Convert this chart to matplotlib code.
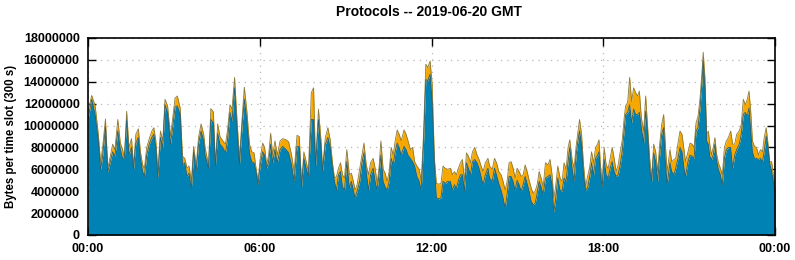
"""
Protocols -- 2019-06-20 GMT, gnuplot 스타일 누적 영역 그래프 재현.
"""
import matplotlib
matplotlib.use("Agg")
import matplotlib.pyplot as plt
from matplotlib.ticker import MultipleLocator, FixedLocator

plt.rcParams['font.family'] = ['Liberation Sans', 'DejaVu Sans']

# 읽은 시점 (시간 단위, 0~24)
hours = [
    0.00, 0.13, 0.25, 0.36, 0.44, 0.51, 0.61, 0.69, 0.78, 0.86, 0.94, 1.04, 1.13, 1.21, 1.27,
    1.35, 1.43, 1.52, 1.59, 1.67, 1.76, 1.83, 1.91, 1.97, 2.05, 2.14, 2.23, 2.30, 2.37, 2.44,
    2.53, 2.61, 2.69, 2.78, 2.88, 2.96, 3.04, 3.12, 3.22, 3.30, 3.38, 3.46, 3.53, 3.61, 3.69,
    3.78, 3.86, 3.95, 4.04, 4.09, 4.21, 4.29, 4.38, 4.45, 4.53, 4.61, 4.71, 4.80, 4.87, 4.96,
    5.03, 5.12, 5.20, 5.29, 5.38, 5.46, 5.55, 5.64, 5.72, 5.80, 5.87, 5.94, 6.01, 6.10, 6.17,
    6.24, 6.31, 6.38, 6.45, 6.53, 6.61, 6.71, 6.80, 6.92, 7.01, 7.11, 7.20, 7.30, 7.38, 7.46,
    7.54, 7.62, 7.70, 7.80, 7.88, 7.95, 8.05, 8.15, 8.19, 8.29, 8.38, 8.46, 8.54, 8.61, 8.68,
    8.75, 8.82, 8.89, 8.96, 9.04, 9.13, 9.20, 9.27, 9.33, 9.40, 9.49, 9.57, 9.64, 9.72, 9.80,
    9.87, 9.96, 10.03, 10.10, 10.17, 10.23, 10.31, 10.38, 10.45, 10.52, 10.59, 10.66, 10.73, 10.80, 10.87,
    10.94, 11.04, 11.11, 11.18, 11.26, 11.34, 11.41, 11.49, 11.57, 11.64, 11.72, 11.80, 11.87, 11.95, 12.02,
    12.10, 12.17, 12.25, 12.33, 12.40, 12.48, 12.56, 12.66, 12.73, 12.80, 12.87, 12.94, 13.01, 13.08, 13.15,
    13.22, 13.29, 13.36, 13.43, 13.51, 13.59, 13.66, 13.73, 13.80, 13.88, 13.97, 14.03, 14.12, 14.20, 14.27,
    14.35, 14.43, 14.50, 14.57, 14.64, 14.71, 14.78, 14.85, 14.92, 14.99, 15.06, 15.13, 15.20, 15.27, 15.34,
    15.41, 15.48, 15.55, 15.62, 15.69, 15.76, 15.83, 15.90, 15.98, 16.07, 16.14, 16.21, 16.27, 16.33, 16.41,
    16.49, 16.56, 16.63, 16.70, 16.77, 16.83, 16.91, 16.98, 17.05, 17.12, 17.17, 17.24, 17.31, 17.38, 17.45,
    17.52, 17.59, 17.66, 17.73, 17.80, 17.85, 17.90, 17.96, 18.03, 18.10, 18.17, 18.24, 18.31, 18.38, 18.45,
    18.52, 18.59, 18.66, 18.73, 18.78, 18.85, 18.92, 18.99, 19.06, 19.13, 19.20, 19.26, 19.33, 19.41, 19.48,
    19.55, 19.62, 19.69, 19.76, 19.83, 19.90, 19.97, 20.04, 20.11, 20.16, 20.23, 20.33, 20.39, 20.47, 20.53,
    20.61, 20.68, 20.75, 20.82, 20.87, 20.96, 21.03, 21.10, 21.17, 21.24, 21.31, 21.38, 21.45, 21.49, 21.55,
    21.61, 21.67, 21.72, 21.78, 21.84, 21.90, 21.95, 22.02, 22.09, 22.16, 22.23, 22.30, 22.37, 22.45, 22.52,
    22.59, 22.66, 22.75, 22.82, 22.89, 22.96, 23.03, 23.09, 23.15, 23.21, 23.28, 23.35, 23.42, 23.49, 23.56,
    23.62, 23.69, 23.74, 23.81, 23.88, 23.94, 24.00,
]

# 아래층 (파랑) - 백만 바이트 단위
blue_mb = [
    10.55, 12.4, 11.0, 8.6, 6.0, 7.2, 9.9, 5.75, 6.7, 7.6, 7.2, 9.5, 7.8, 7.0, 7.0,
    10.5, 7.3, 8.0, 6.0, 8.4, 8.9, 7.0, 5.8, 5.35, 7.3, 8.3, 8.9, 9.2, 8.0, 5.2,
    8.9, 8.0, 11.9, 11.2, 8.3, 9.9, 11.7, 11.8, 11.0, 6.4, 6.6, 5.35, 5.65, 4.2, 7.6,
    5.8, 8.3, 9.5, 8.6, 7.3, 6.1, 10.55, 10.25, 6.3, 9.3, 8.3, 8.0, 7.5, 8.6, 11.2,
    10.4, 13.45, 9.9, 6.4, 9.9, 12.4, 10.4, 7.5, 6.7, 6.6, 5.8, 4.6, 6.3, 7.6, 7.3,
    6.1, 6.7, 8.3, 6.6, 7.8, 6.6, 7.8, 8.1, 7.8, 7.5, 6.4, 4.9, 8.1, 8.1, 4.4,
    7.0, 6.1, 5.35, 10.55, 10.55, 6.3, 10.55, 7.6, 5.8, 8.3, 8.9, 8.0, 6.1, 4.9, 4.1,
    5.5, 5.8, 4.4, 4.1, 6.7, 4.3, 4.9, 4.1, 3.4, 4.0, 4.9, 6.6, 7.5, 5.8, 4.1,
    5.5, 6.1, 4.9, 4.1, 5.65, 7.3, 4.9, 4.4, 4.1, 4.9, 7.0, 6.4, 7.6, 8.4, 8.0,
    7.3, 8.1, 7.8, 7.3, 7.0, 6.7, 6.3, 5.35, 4.9, 4.1, 8.3, 14.2, 14.1, 14.7, 12.2,
    6.4, 3.4, 3.3, 3.4, 4.9, 4.7, 4.9, 4.9, 4.1, 4.6, 4.3, 5.0, 5.5, 5.5, 4.0,
    6.6, 6.1, 5.5, 6.7, 6.9, 6.6, 6.1, 5.35, 4.6, 5.5, 6.1, 5.2, 4.9, 6.1, 5.5,
    4.7, 4.1, 3.4, 2.45, 3.7, 5.35, 5.35, 4.9, 4.1, 5.0, 4.6, 4.0, 4.6, 5.35, 4.7,
    4.0, 3.1, 2.75, 2.9, 3.8, 4.9, 4.4, 3.7, 5.2, 5.35, 5.5, 4.6, 2.1, 3.1, 5.2,
    4.1, 4.0, 5.2, 4.9, 6.7, 8.0, 6.1, 4.9, 7.3, 8.7, 9.5, 8.3, 5.5, 4.1, 4.3,
    5.2, 6.6, 5.5, 7.0, 7.3, 7.6, 5.5, 4.4, 6.9, 5.5, 5.2, 6.1, 6.7, 5.8, 5.35,
    5.5, 6.4, 7.6, 9.6, 11.0, 11.2, 11.9, 10.25, 11.5, 11.0, 11.0, 11.2, 9.8, 8.4, 11.3,
    9.2, 6.1, 4.9, 7.5, 6.7, 4.9, 7.3, 9.2, 9.8, 7.0, 4.6, 6.6, 5.8, 5.5, 6.1,
    7.0, 8.0, 7.6, 6.1, 5.35, 6.7, 7.3, 7.2, 7.0, 9.5, 9.8, 11.6, 14.1, 15.9, 13.45,
    8.6, 8.3, 7.2, 6.9, 7.3, 8.3, 6.9, 6.0, 5.5, 4.6, 7.0, 7.8, 8.0, 8.0, 6.1,
    7.3, 7.8, 8.3, 9.2, 11.0, 11.2, 10.85, 11.6, 9.5, 7.6, 7.0, 7.0, 6.9, 7.0, 6.7,
    7.6, 9.0, 8.3, 6.6, 5.8, 4.9, 3.8,
]

# 누적 합계 (파랑 + 주황) - 백만 바이트 단위
total_mb = [
    11.3, 12.75, 11.8, 9.2, 6.6, 8.0, 10.6, 6.1, 7.2, 8.3, 7.8, 10.55, 8.4, 7.8, 7.0,
    11.3, 8.0, 8.8, 6.3, 9.2, 9.7, 7.6, 6.4, 6.1, 8.0, 8.8, 9.5, 9.8, 8.6, 5.8,
    9.5, 8.6, 12.4, 11.8, 9.0, 10.7, 12.5, 12.7, 11.6, 7.2, 7.0, 6.1, 6.3, 4.9, 8.1,
    6.3, 8.9, 10.15, 9.2, 8.0, 6.4, 11.55, 11.25, 6.4, 10.15, 9.0, 8.6, 8.3, 9.5, 11.9,
    11.5, 14.4, 10.7, 7.0, 10.55, 13.5, 11.3, 8.3, 7.6, 7.5, 6.1, 4.9, 6.9, 8.4, 8.0,
    6.4, 7.3, 9.3, 7.3, 8.6, 7.3, 8.6, 8.8, 8.7, 8.5, 7.3, 5.8, 9.1, 9.0, 4.6,
    7.6, 6.7, 5.8, 13.0, 13.45, 6.4, 11.5, 8.3, 6.0, 8.9, 9.8, 8.7, 6.6, 5.2, 5.35,
    6.1, 6.6, 5.5, 5.2, 7.8, 5.5, 5.65, 4.9, 4.1, 4.6, 6.0, 7.3, 8.4, 6.4, 5.5,
    6.6, 7.0, 6.1, 4.7, 6.3, 8.6, 6.0, 5.65, 4.9, 5.8, 8.0, 7.3, 8.6, 9.6, 9.2,
    8.6, 9.6, 9.2, 8.6, 7.8, 8.0, 6.7, 6.3, 6.0, 4.9, 9.2, 15.6, 15.3, 15.9, 13.8,
    7.0, 4.7, 4.65, 4.7, 6.3, 6.1, 6.0, 6.1, 5.5, 5.8, 5.5, 6.1, 6.6, 6.9, 4.9,
    7.5, 7.2, 6.6, 7.6, 8.0, 7.3, 6.9, 6.3, 5.8, 6.6, 7.0, 6.3, 6.0, 7.0, 6.6,
    5.8, 5.5, 4.9, 4.1, 4.9, 6.6, 6.7, 6.1, 5.2, 6.1, 5.8, 5.35, 5.5, 6.4, 5.8,
    5.0, 4.3, 3.8, 4.0, 4.6, 5.8, 5.2, 4.4, 6.6, 6.4, 6.9, 5.5, 3.4, 4.3, 6.3,
    5.2, 4.9, 6.6, 6.0, 8.0, 8.7, 6.9, 6.1, 8.1, 9.5, 10.55, 9.2, 6.4, 4.4, 5.35,
    6.1, 7.6, 6.6, 8.0, 8.3, 8.7, 6.4, 4.7, 8.0, 6.4, 6.1, 7.0, 8.0, 7.0, 5.8,
    6.4, 7.6, 8.6, 10.7, 11.8, 12.1, 14.4, 12.2, 13.45, 13.0, 12.7, 13.15, 10.7, 9.5, 12.7,
    9.8, 7.0, 5.2, 8.3, 7.6, 5.8, 8.3, 10.1, 11.0, 8.6, 5.8, 7.8, 6.7, 6.9, 7.0,
    8.4, 9.5, 9.2, 7.8, 6.7, 7.6, 8.4, 8.3, 8.0, 10.25, 10.85, 12.5, 15.0, 16.7, 14.4,
    9.2, 9.5, 8.3, 7.3, 8.0, 8.9, 7.5, 6.6, 6.1, 5.5, 8.0, 8.6, 8.9, 9.5, 8.3,
    8.3, 9.2, 9.5, 10.1, 12.4, 11.9, 12.4, 13.15, 11.3, 8.6, 8.1, 8.0, 7.3, 7.8, 7.6,
    8.9, 9.8, 8.7, 6.7, 6.7, 5.5, 4.3,
]

BLUE = "#0083b4"
ORANGE = "#f7a800"

blue = [v * 1e6 for v in blue_mb]
total = [v * 1e6 for v in total_mb]

fig = plt.figure(figsize=(7.95, 2.6), dpi=100)
ax = fig.add_axes([0.1107, 0.0962, 0.8642, 0.7578])

# 누적 영역 (파랑 아래, 주황 위)
ax.fill_between(hours, 0, blue, color=BLUE, linewidth=0, zorder=2)
ax.fill_between(hours, blue, total, color=ORANGE, linewidth=0, zorder=2)
ax.plot(hours, total, color="#8a7a40", linewidth=0.6, zorder=3)
ax.plot(hours, blue, color="#2b5f70", linewidth=0.6, zorder=3)

ax.set_xlim(0, 24)
ax.set_ylim(0, 18000000)
ax.yaxis.set_major_locator(MultipleLocator(2000000))
ax.xaxis.set_major_locator(FixedLocator([0, 6, 12, 18, 24]))
ax.set_xticklabels(["00:00", "06:00", "12:00", "18:00", "00:00"])
ax.set_yticklabels([f"{int(v)}" for v in ax.get_yticks()])

# gnuplot 느낌: 안쪽 눈금, 점선 격자
ax.tick_params(direction="in", length=6, width=1, top=True, right=True,
               labelsize=9, pad=6)
for lab in ax.get_xticklabels() + ax.get_yticklabels():
    lab.set_fontweight("bold")
ax.grid(True, color="#b8b8b8", linestyle=(0, (1, 4)), linewidth=0.9, zorder=1)
ax.set_axisbelow(True)
for s in ax.spines.values():
    s.set_linewidth(1.2)
    s.set_zorder(4)

ax.set_ylabel("Bytes per time slot (300 s)", fontsize=8.3, fontweight="bold", labelpad=5)
fig.text(0.54, 0.955, "Protocols -- 2019-06-20 GMT", ha="center", va="center",
         fontsize=10, fontweight="bold")

plt.savefig("out.png", dpi=100)
